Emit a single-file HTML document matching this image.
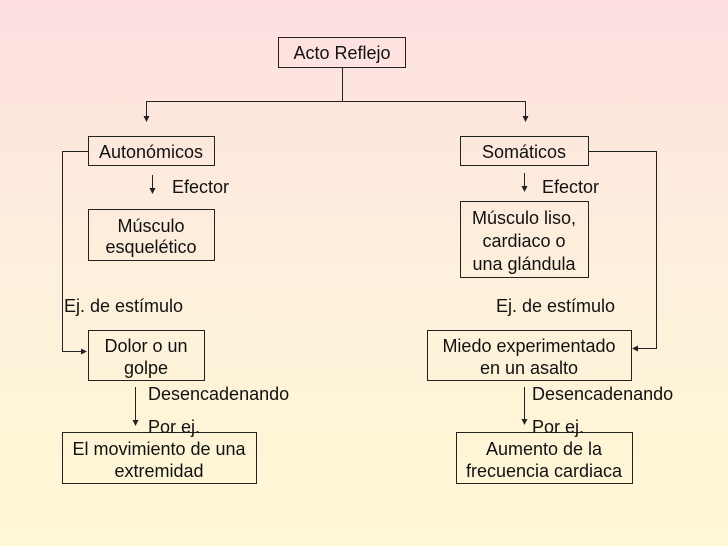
<!DOCTYPE html>
<html><head><meta charset="utf-8"><style>
body{margin:0;width:728px;height:546px;overflow:hidden;background:linear-gradient(#fddfe0,#fdf0dc 50%,#fef8d4);font-family:"Liberation Sans",sans-serif;}
</style></head><body>
<svg width="728" height="546" style="position:absolute;left:0;top:0" font-family="Liberation Sans, sans-serif" font-size="18" fill="#111">
<defs><marker id="a" markerWidth="6" markerHeight="6" refX="5" refY="3" orient="auto" markerUnits="userSpaceOnUse"><path d="M0,0 L6,3 L0,6z" fill="#222"/></marker></defs>
<g stroke="#222" stroke-width="1" fill="none">
<rect x="278.5" y="37.5" width="127" height="30"/>
<rect x="88.5" y="136.5" width="126" height="29"/>
<rect x="460.5" y="136.5" width="128" height="29"/>
<rect x="88.5" y="209.5" width="126" height="51"/>
<rect x="460.5" y="201.5" width="128" height="76"/>
<rect x="88.5" y="330.5" width="116" height="50"/>
<rect x="427.5" y="330.5" width="204" height="50"/>
<rect x="62.5" y="432.5" width="194" height="51"/>
<rect x="456.5" y="432.5" width="176" height="51"/>
<path d="M342.5,67 V101.5 H146.5 V121" marker-end="url(#a)"/>
<path d="M342.5,101.5 H525.5 V121" marker-end="url(#a)"/>
<path d="M152.5,175 V193" marker-end="url(#a)"/>
<path d="M524.5,173 V191" marker-end="url(#a)"/>
<path d="M88,151.5 H62.5 V351.5 H86" marker-end="url(#a)"/>
<path d="M588,151.5 H656.5 V348.5 H633" marker-end="url(#a)"/>
<path d="M135.5,387 V425" marker-end="url(#a)"/>
<path d="M524.5,387 V424" marker-end="url(#a)"/>
</g>
<g text-anchor="middle">
<text x="342" y="59">Acto Reflejo</text>
<text x="151" y="158">Autonómicos</text>
<text x="524" y="158">Somáticos</text>
<text x="151" y="232">Músculo</text>
<text x="151" y="253">esquelético</text>
<text x="524" y="224">Músculo liso,</text>
<text x="524" y="247">cardiaco o</text>
<text x="524" y="270">una glándula</text>
<text x="146" y="352">Dolor o un</text>
<text x="146" y="374">golpe</text>
<text x="529" y="352">Miedo experimentado</text>
<text x="529" y="374">en un asalto</text>
<text x="159" y="455">El movimiento de una</text>
<text x="159" y="477">extremidad</text>
<text x="544" y="455">Aumento de la</text>
<text x="544" y="477">frecuencia cardiaca</text>
</g>
<text x="172" y="193">Efector</text>
<text x="542" y="193">Efector</text>
<text x="64" y="312">Ej. de estímulo</text>
<text x="496" y="312">Ej. de estímulo</text>
<text x="148" y="400">Desencadenando</text>
<text x="148" y="433">Por ej.</text>
<text x="532" y="400">Desencadenando</text>
<text x="532" y="433">Por ej.</text>
</svg>
</body></html>
